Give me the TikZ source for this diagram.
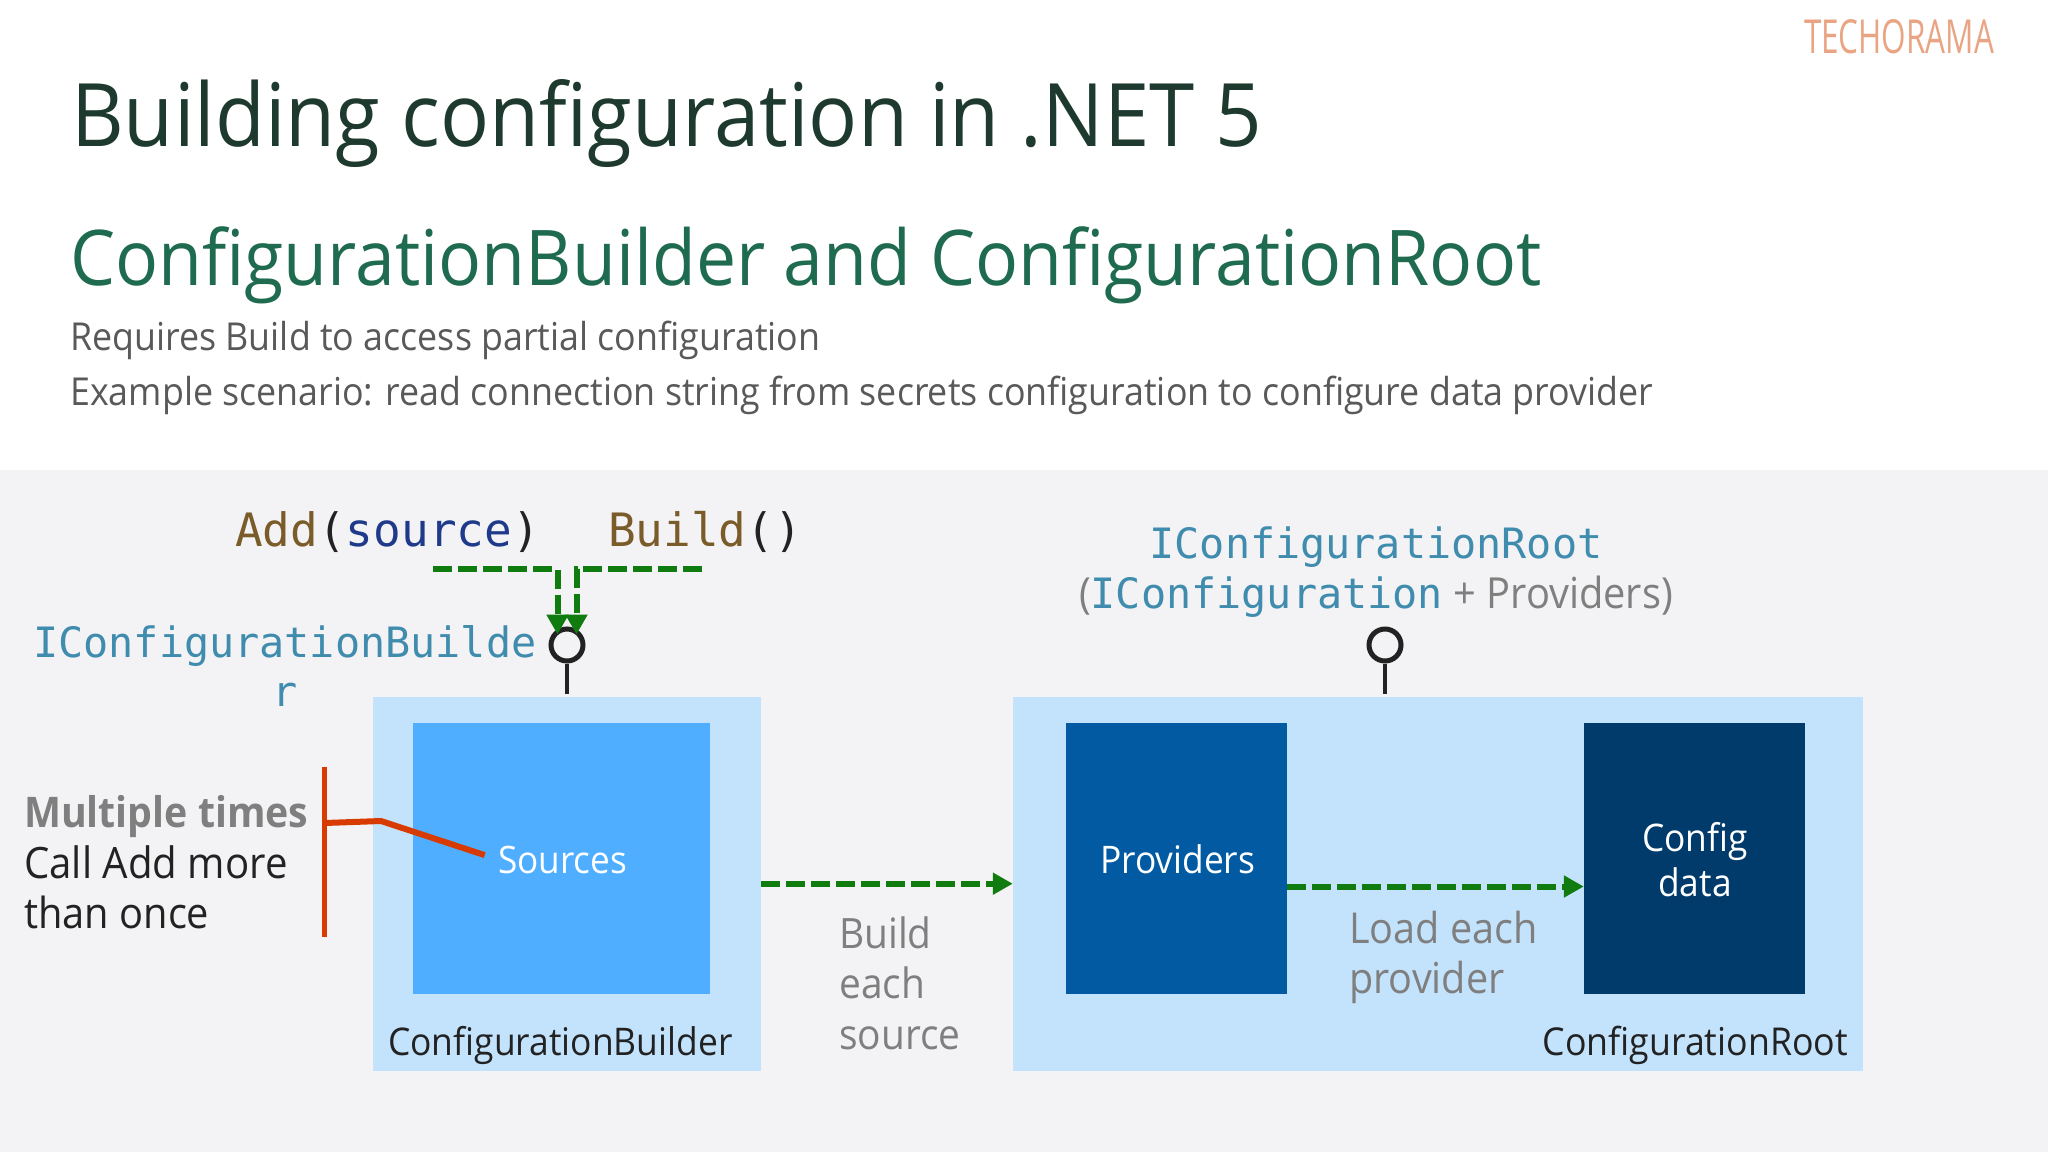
\documentclass[tikz,border=0pt]{standalone}
\usepackage{fontspec}
\usepackage{graphicx}
\usetikzlibrary{arrows.meta}
\setmainfont[FakeStretch=0.93]{Open Sans}
\newfontfamily\codefont{DejaVu Sans Mono}
\newcommand{\fs}[1]{\fontsize{#1}{#1}\selectfont}
\definecolor{bandgray}{HTML}{F3F2F4}
\definecolor{lightbox}{HTML}{C3E3FD}
\definecolor{sourceblue}{HTML}{4FAEFF}
\definecolor{providerblue}{HTML}{015AA2}
\definecolor{configblue}{HTML}{003B6B}
\definecolor{flowgreen}{HTML}{107C10}
\definecolor{barorange}{HTML}{D83B01}
\definecolor{typeteal}{HTML}{3F8CAE}
\definecolor{methodbrown}{HTML}{7A5C2A}
\definecolor{argnavy}{HTML}{1F3A8A}
\definecolor{titledark}{HTML}{1E3A2E}
\definecolor{subgreen}{HTML}{1F6B4F}
\definecolor{bodygray}{HTML}{595959}
\definecolor{notegray}{HTML}{7F7F7F}
\definecolor{inkdark}{HTML}{222222}
\definecolor{logoorange}{HTML}{E9A583}
\begin{document}
\begin{tikzpicture}[x=1pt,y=-1pt,
  txt/.style={inner sep=0pt,anchor=base west},
  code/.style={txt,font=\codefont\fs{41.8}},
  call/.style={txt,font=\codefont\fs{46}},
  outerbox/.style={fill=lightbox,inner sep=0pt,minimum height=374pt},
  innerbox/.style={inner sep=0pt,minimum height=271pt,text=white},
  port/.style={circle,draw=inkdark,line width=5pt,inner sep=0pt,minimum size=32pt},
  stem/.style={draw=inkdark,line width=4.5pt,shorten >=3pt},
  flow/.style={draw=flowgreen,line width=6pt,dash pattern=on 19pt off 6pt,
    -{Triangle[length=20pt,width=21pt]}},
  bar/.style={draw=barorange,line width=5pt}]
  \useasboundingbox (0,0) rectangle (2048,1152);
  \fill[white] (0,0) rectangle (2048,470);
  \fill[bandgray] (0,470) rectangle (2048,1152);
  % heading
  \node[txt,font=\fs{87.6},text=titledark] (title) at (71,146) {Building configuration in .NET 5};
  \node[txt,font=\fs{76.9},text=subgreen] (subtitle) at (70,285) {ConfigurationBuilder and ConfigurationRoot};
  \node[txt,font=\fs{38.5},text=bodygray] (lineone) at (70,350) {Requires Build to access partial configuration};
  \node[txt,font=\fs{38.5},text=bodygray] (linetwo) at (70,405) {Example scenario: read connection string from secrets configuration to configure data provider};
  \node[inner sep=0pt,text=logoorange] (logo) at (1899,37) {\resizebox{190pt}{34pt}{TECHORAMA}};
  % boxes
  \node[outerbox,minimum width=388pt] (builder) at (567,883.7) {};
  \node[outerbox,minimum width=850pt] (root) at (1438,883.7) {};
  \node[innerbox,minimum width=297pt,fill=sourceblue] (sources) at (561.5,858.5) {};
  \node[innerbox,minimum width=221pt,fill=providerblue] (providers) at (1176.5,858.5) {};
  \node[innerbox,minimum width=221pt,fill=configblue] (config) at (1694.5,858.5) {};
  % box labels
  \node[txt,font=\fs{37.8},text=white] (sourceslabel) at (498,873) {Sources};
  \node[txt,font=\fs{38},text=white] (providerslabel) at (1100,873) {Providers};
  \node[txt,font=\fs{38},text=white,anchor=base] (configlabel) at (1695,851) {Config};
  \node[txt,font=\fs{38},text=white,anchor=base] (datalabel) at (1695,896) {data};
  \node[txt,font=\fs{38.1},text=inkdark] (builderlabel) at (388,1055) {ConfigurationBuilder};
  \node[txt,font=\fs{38.4},text=inkdark,anchor=base east] (rootlabel) at (1848,1055) {ConfigurationRoot};
  % notes
  \node[txt,font=\fs{42.2}\bfseries,text=notegray] (multiple) at (24,827) {Multiple times};
  \node[txt,font=\fs{43.2},text=inkdark] (calladd) at (24,878) {Call Add more};
  \node[txt,font=\fs{42.8},text=inkdark] (thanonce) at (24,928) {than once};
  \node[txt,font=\fs{41.8},text=notegray] (buildeach) at (839,948) {Build};
  \node[txt,font=\fs{41.8},text=notegray] (each) at (839,998) {each};
  \node[txt,font=\fs{41.8},text=notegray] (source) at (839,1049) {source};
  \node[txt,font=\fs{42.6},text=notegray] (loadeach) at (1349,943) {Load each};
  \node[txt,font=\fs{42.6},text=notegray] (provider) at (1349,993) {provider};
  % code labels
  \node[call] (addcall) at (235,546) {\textcolor{methodbrown}{Add}\textcolor{inkdark}{(}\textcolor{argnavy}{source}\textcolor{inkdark}{)}};
  \node[call] (buildcall) at (608,546) {\textcolor{methodbrown}{Build}\textcolor{inkdark}{()}};
  \node[code,text=typeteal] (ibuilder) at (33,657) {IConfigurationBuilde};
  \node[code,text=typeteal,anchor=base] (ibuilderr) at (285,706) {r};
  \node[code,text=typeteal,anchor=base] (irootlabel) at (1376,558) {IConfigurationRoot};
  \node[code,anchor=base] (iconfiglabel) at (1376,608) {\textcolor{notegray}{\rmfamily\fs{42.8}(}\textcolor{typeteal}{IConfiguration}\textcolor{notegray}{\rmfamily\fs{42.8}\ + Providers)}};
  % ports
  \node[port] (builderport) at (567,645) {};
  \node[port] (rootport) at (1385,645) {};
  \draw[stem] (builderport) -- (builderport |- builder.north);
  \draw[stem] (rootport) -- (rootport |- root.north);
  % calls into the builder
  \coordinate (addstart) at (433,569);
  \coordinate (buildstart) at (702,569);
  \draw[flow] (addstart) -| ([shift={(-9.5pt,-8pt)}]builderport.north);
  \draw[flow] (buildstart) -| ([shift={(9.5pt,-8pt)}]builderport.north);
  % flows
  \draw[flow] (builder) -- (root);
  \draw[flow] ([yshift=-28pt]providers.east) -- ([yshift=-28pt]config.west);
  % multiple times bracket
  \coordinate (bartop) at (324.5,767);
  \coordinate (barbottom) at (324.5,937);
  \coordinate (barjoin) at (324.5,823);
  \coordinate (barknee) at (381,821);
  \draw[bar] (bartop) -- (barbottom);
  \draw[bar,line width=6pt,shorten >=14pt] (barjoin) -- (barknee) -- (sourceslabel.west);
\end{tikzpicture}
\end{document}
